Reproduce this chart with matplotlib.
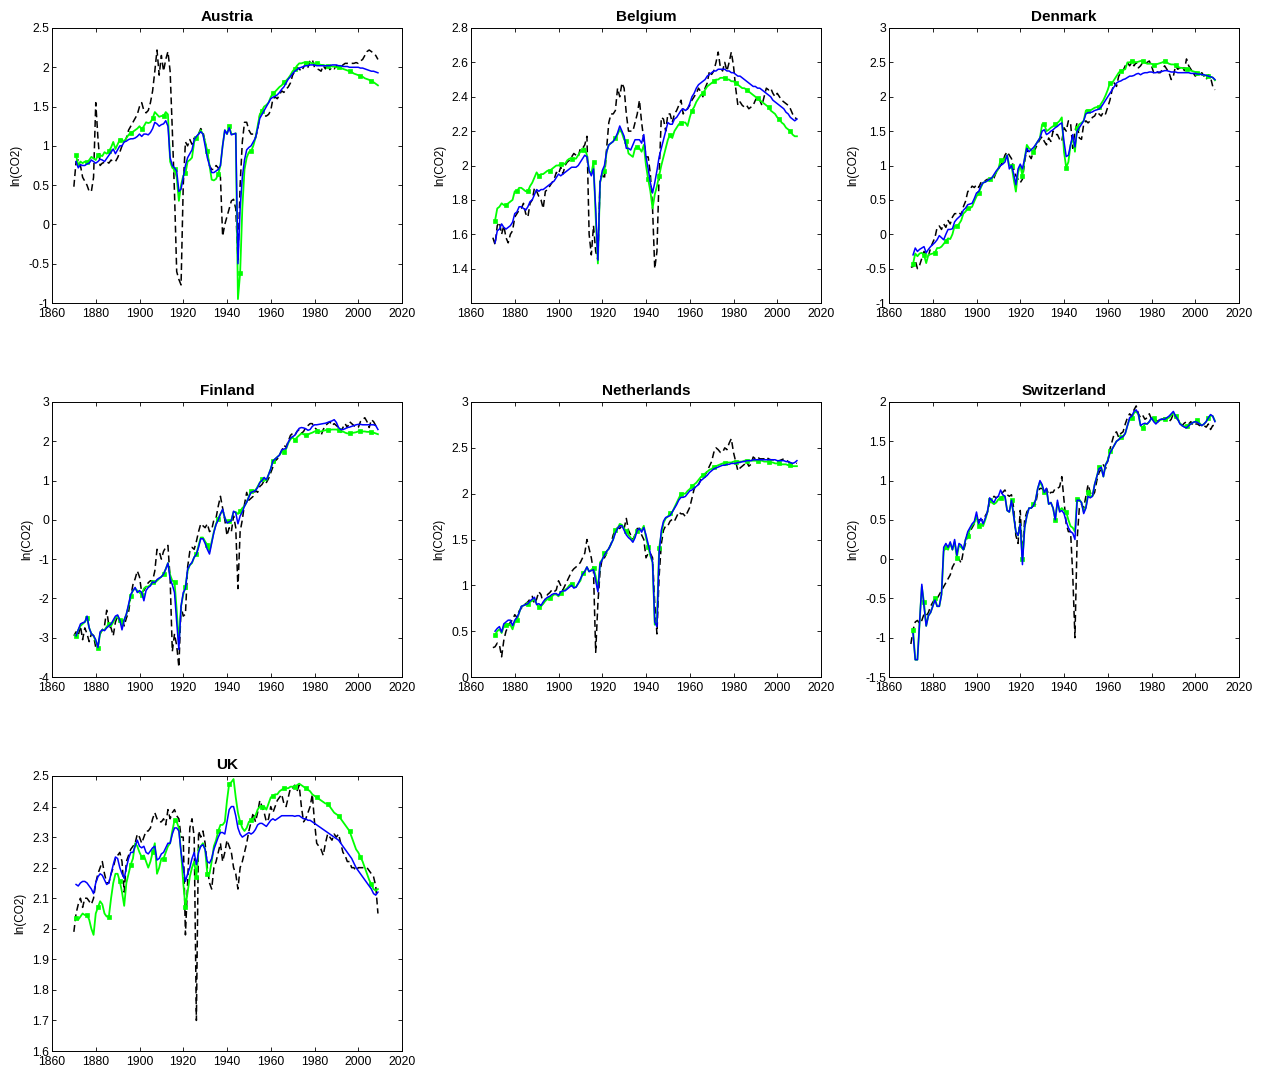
import numpy as np
import matplotlib.pyplot as plt

plt.rcParams['font.family'] = ['Liberation Sans', 'DejaVu Sans']

nan = np.nan
years = np.arange(1870, 2010)

# observed ln(CO2) (dashed) and two fitted paths (blue, green), one value per year 1870-2009

aut_obs = [
    0.48, 0.8, 0.82, 0.75, 0.6, 0.55, 0.5, 0.42, 0.42, 0.6,
    1.55, 1.1, 0.75, 0.78, 0.79, 0.8, 0.78, 0.82, 0.8, 0.8,
    0.85, 0.92, 1.0, 1.05, 1.1, 1.2, 1.25, 1.3, 1.35, 1.4,
    1.5, 1.55, 1.45, 1.42, 1.45, 1.55, 1.7, 1.95, 2.22, 1.9,
    2.15, 1.95, 2.1, 2.2, 1.95, 1.2, 0.4, -0.6, -0.7, -0.77,
    0.5, 1.05, 1.0, 1.08, 1.02, 1.1, 1.08, 1.15, 1.22, 1.18,
    1.05, 0.9, 0.75, 0.7, 0.7, 0.75, 0.72, 0.6, -0.15, 0.0,
    0.1, 0.2, 0.3, 0.32, 0.2, -0.45, 0.5, 1.05, 1.3, 1.3,
    1.2, 1.15, 1.15, 1.1, 1.2, 1.4, 1.42, 1.38, 1.38, 1.4,
    1.45, 1.6, 1.62, 1.6, 1.65, 1.7, 1.68, 1.72, 1.75, 1.8,
    1.9, 1.95, 2.0, 1.98, 1.95, 2.0, 2.05, 2.0, 2.08, 2.1,
    2.0, 1.98, 1.97, 1.95, 2.02, 1.98, 2.05, 1.97, 2.0, 1.98,
    2.02, 2.0, 2.0, 2.03, 2.05, 2.05, 2.05, 2.05, 2.05, 2.06,
    2.05, 2.08, 2.1, 2.15, 2.2, 2.22, 2.2, 2.18, 2.15, 2.1]
aut_fit1 = [
    nan, 0.8, 0.72, 0.76, 0.75, 0.75, 0.77, 0.78, 0.82, 0.8,
    0.78, 0.8, 0.83, 0.82, 0.8, 0.84, 0.88, 0.92, 0.96, 0.9,
    0.95, 1.0, 1.0, 1.05, 1.06, 1.08, 1.09, 1.09, 1.1, 1.12,
    1.15, 1.12, 1.15, 1.15, 1.14, 1.17, 1.22, 1.3, 1.28, 1.25,
    1.27, 1.28, 1.32, 1.25, 0.85, 0.75, 0.72, 0.68, 0.42, 0.45,
    0.6, 0.75, 0.85, 0.9, 0.95, 1.08, 1.12, 1.15, 1.18, 1.15,
    1.0, 0.85, 0.75, 0.66, 0.66, 0.68, 0.7, 0.75, 1.0, 1.2,
    1.15, 1.23, 1.14, 1.15, 1.16, -0.5, 0.2, 0.6, 0.82, 0.95,
    0.98, 1.0, 1.05, 1.1, 1.22, 1.35, 1.4, 1.45, 1.5, 1.55,
    1.6, 1.62, 1.63, 1.65, 1.68, 1.72, 1.75, 1.8, 1.85, 1.88,
    1.92, 1.95, 1.97, 1.99, 2.0, 2.01, 2.02, 2.02, 2.03, 2.03,
    2.03, 2.02, 2.02, 2.02, 2.02, 2.02, 2.02, 2.02, 2.03, 2.03,
    2.03, 2.02, 2.02, 2.01, 2.01, 2.01, 2.0, 2.0, 2.0, 2.0,
    2.0, 1.99, 1.99, 1.98, 1.97, 1.96, 1.95, 1.95, 1.94, 1.93]
aut_fit2 = [
    nan, 0.88, 0.75, 0.8, 0.78, 0.8, 0.79, 0.82, 0.86, 0.84,
    0.82, 0.88, 0.88, 0.87, 0.92, 0.9, 0.93, 0.98, 1.05, 0.96,
    1.02, 1.08, 1.08, 1.05, 1.1, 1.14, 1.17, 1.18, 1.2, 1.22,
    1.25, 1.21, 1.25, 1.3, 1.29, 1.3, 1.35, 1.43, 1.4, 1.37,
    1.38, 1.38, 1.43, 1.4, 0.8, 0.72, 0.7, 0.6, 0.3, 0.5,
    0.62, 0.65, 0.8, 0.82, 0.85, 1.05, 1.1, 1.15, 1.2, 1.15,
    1.05, 0.93, 0.75, 0.57, 0.56, 0.58, 0.64, 0.75, 1.0, 1.2,
    1.15, 1.25, 1.15, 1.15, 1.16, -0.95, -0.62, 0.2, 0.7, 0.85,
    0.92, 0.93, 1.0, 1.1, 1.25, 1.4, 1.45, 1.5, 1.52, 1.55,
    1.62, 1.67, 1.69, 1.72, 1.75, 1.77, 1.81, 1.83, 1.86, 1.9,
    1.95, 1.98, 2.02, 2.05, 2.05, 2.06, 2.06, 2.06, 2.06, 2.05,
    2.05, 2.05, 2.04, 2.03, 2.03, 2.02, 2.02, 2.02, 2.01, 2.01,
    2.0, 2.0, 1.99, 1.98, 1.97, 1.96, 1.95, 1.94, 1.92, 1.91,
    1.9, 1.89, 1.88, 1.86, 1.85, 1.84, 1.82, 1.81, 1.79, 1.77]

bel_obs = [
    1.58, 1.54, 1.65, 1.67, 1.6, 1.65, 1.58, 1.55, 1.6, 1.62,
    1.7, 1.72, 1.74, 1.75, 1.78, 1.72, 1.7, 1.78, 1.8, 1.87,
    1.85, 1.82, 1.8, 1.75, 1.85, 1.86, 1.88, 1.9, 1.92, 1.96,
    1.95, 1.99, 1.95, 2.0, 2.02, 2.03, 2.05, 2.07, 2.06, 2.05,
    2.1, 2.1, 2.12, 2.17, 1.6, 1.48, 1.65, 1.5, 1.45, 1.92,
    1.95, 1.92, 2.1, 2.25, 2.3, 2.3, 2.32, 2.45, 2.4, 2.48,
    2.45, 2.3, 2.2, 2.2, 2.2, 2.25, 2.3, 2.38, 2.25, 2.15,
    2.05, 2.05, 1.95, 1.75, 1.4, 1.5, 1.95, 2.28, 2.27, 2.2,
    2.3, 2.3, 2.25, 2.3, 2.32, 2.35, 2.38, 2.3, 2.32, 2.33,
    2.35, 2.38, 2.4, 2.42, 2.45, 2.43, 2.4, 2.45, 2.48, 2.55,
    2.53, 2.55, 2.6, 2.66, 2.57, 2.55, 2.6, 2.55, 2.6, 2.66,
    2.58, 2.45, 2.35, 2.37, 2.35, 2.34, 2.35, 2.33, 2.34, 2.35,
    2.38, 2.4, 2.38, 2.35, 2.4, 2.45, 2.44, 2.45, 2.42, 2.4,
    2.42, 2.4, 2.38, 2.37, 2.36, 2.35, 2.33, 2.3, 2.28, 2.27]
bel_fit1 = [
    nan, 1.55, 1.62, 1.63, 1.66, 1.64, 1.63, 1.64, 1.65, 1.67,
    1.72, 1.73, 1.76, 1.76, 1.75, 1.74, 1.76, 1.79, 1.8, 1.83,
    1.86, 1.85, 1.86, 1.86, 1.87, 1.88, 1.89, 1.9, 1.91, 1.93,
    1.95, 1.94, 1.95, 1.96, 1.97, 1.98, 1.99, 1.99, 1.99, 2.0,
    2.02, 2.04, 2.06, 2.05, 1.97, 1.94, 1.98, 1.75, 1.45, 1.9,
    1.97, 2.0, 2.08, 2.12, 2.13, 2.14, 2.16, 2.19, 2.23, 2.2,
    2.17, 2.1, 2.1, 2.09, 2.12, 2.15, 2.15, 2.15, 2.13, 2.18,
    2.05, 1.98, 1.9, 1.84, 1.9, 1.97, 2.05, 2.1, 2.15, 2.2,
    2.25, 2.24, 2.24, 2.27, 2.28, 2.3, 2.32, 2.33, 2.32, 2.33,
    2.36, 2.4, 2.42, 2.45, 2.47, 2.48, 2.49, 2.5, 2.52, 2.53,
    2.54, 2.55, 2.55, 2.56, 2.56, 2.56, 2.56, 2.55, 2.55, 2.54,
    2.54, 2.53, 2.52, 2.52, 2.51, 2.5, 2.49, 2.48, 2.47, 2.46,
    2.46, 2.45, 2.45, 2.44, 2.43, 2.42, 2.41, 2.4, 2.38, 2.37,
    2.36, 2.35, 2.34, 2.33, 2.31, 2.3, 2.28, 2.27, 2.26, 2.27]
bel_fit2 = [
    nan, 1.68, 1.75, 1.76, 1.78, 1.77, 1.77, 1.78, 1.79, 1.8,
    1.85, 1.85, 1.87, 1.87, 1.86, 1.85, 1.85, 1.88, 1.9, 1.93,
    1.96, 1.94, 1.95, 1.95, 1.96, 1.97, 1.97, 1.98, 1.99, 2.0,
    2.0, 2.01, 2.01, 2.01, 2.03, 2.04, 2.04, 2.04, 2.04, 2.06,
    2.08, 2.09, 2.1, 2.06, 1.97, 1.95, 2.02, 1.7, 1.43, 1.9,
    1.95, 1.97, 2.08, 2.12, 2.13, 2.14, 2.16, 2.18, 2.21, 2.19,
    2.15, 2.14, 2.07, 2.06, 2.05, 2.1, 2.11, 2.1, 2.08, 2.12,
    2.0, 1.92, 1.85, 1.75, 1.83, 1.88, 1.94, 2.0, 2.05, 2.1,
    2.15, 2.18, 2.16, 2.2, 2.22, 2.24, 2.25, 2.25, 2.25, 2.23,
    2.28, 2.32, 2.34, 2.37, 2.39, 2.41, 2.42, 2.44, 2.46, 2.47,
    2.48, 2.49, 2.5, 2.5, 2.51, 2.51, 2.51, 2.5, 2.5, 2.49,
    2.49, 2.48, 2.47, 2.46, 2.45, 2.45, 2.44, 2.43, 2.42, 2.41,
    2.4, 2.39, 2.38, 2.37, 2.36, 2.35, 2.34, 2.32, 2.31, 2.3,
    2.28, 2.27, 2.25, 2.24, 2.22, 2.21, 2.2, 2.18, 2.17, 2.17]

dnk_obs = [
    -0.48, -0.47, -0.38, -0.5, -0.45, -0.35, -0.25, -0.3, -0.32, -0.2,
    -0.12, -0.05, 0.1, 0.12, 0.07, 0.15, 0.1, 0.2, 0.15, 0.25,
    0.3, 0.3, 0.32, 0.28, 0.4, 0.48, 0.62, 0.65, 0.7, 0.68,
    0.72, 0.68, 0.75, 0.75, 0.78, 0.8, 0.78, 0.8, 0.82, 0.9,
    0.95, 1.0, 1.05, 1.15, 1.2, 1.15, 1.1, 0.95, 0.85, 0.8,
    0.75, 0.8, 1.05, 1.25, 1.15, 1.1, 1.2, 1.25, 1.32, 1.38,
    1.42, 1.35, 1.3, 1.4, 1.35, 1.5, 1.45, 1.45, 1.38, 1.35,
    1.55, 1.5, 1.65, 1.62, 1.25, 1.5, 1.62, 1.4, 1.38, 1.6,
    1.65, 1.62, 1.65, 1.7, 1.72, 1.78, 1.75, 1.72, 1.78, 1.75,
    1.85, 1.95, 2.1, 2.2, 2.15, 2.3, 2.35, 2.38, 2.45, 2.5,
    2.45, 2.5, 2.45, 2.5, 2.42, 2.45, 2.5, 2.48, 2.5, 2.52,
    2.45, 2.35, 2.38, 2.35, 2.35, 2.4, 2.45, 2.4, 2.35, 2.25,
    2.3, 2.45, 2.4, 2.42, 2.45, 2.38, 2.55, 2.45, 2.4, 2.35,
    2.3, 2.33, 2.3, 2.35, 2.3, 2.25, 2.32, 2.28, 2.15, 2.1]
dnk_fit1 = [
    nan, -0.3, -0.2, -0.25, -0.22, -0.2, -0.18, -0.27, -0.22, -0.18,
    -0.15, -0.12, -0.08, -0.02, -0.05, -0.08, 0.0, 0.07, 0.07, 0.08,
    0.18, 0.22, 0.25, 0.28, 0.35, 0.38, 0.43, 0.44, 0.45, 0.52,
    0.6, 0.62, 0.7, 0.75, 0.76, 0.78, 0.8, 0.82, 0.87, 0.92,
    0.96, 1.0, 1.02, 1.05, 1.15, 0.95, 1.0, 0.88, 0.72, 0.95,
    1.02, 0.95, 1.1, 1.25, 1.2, 1.23, 1.26, 1.3, 1.35, 1.4,
    1.5, 1.52, 1.45, 1.47, 1.5, 1.52, 1.55, 1.57, 1.6, 1.62,
    1.35, 1.13, 1.15, 1.3, 1.45, 1.27, 1.5, 1.55, 1.6, 1.65,
    1.75, 1.77, 1.77, 1.78, 1.8, 1.81, 1.82, 1.85, 1.9, 1.95,
    2.0, 2.05, 2.1, 2.15, 2.2, 2.22, 2.23, 2.25, 2.26, 2.28,
    2.3, 2.3, 2.31, 2.33, 2.34, 2.32, 2.34, 2.35, 2.35, 2.36,
    2.36, 2.35, 2.35, 2.36, 2.36, 2.37, 2.38, 2.38, 2.37, 2.36,
    2.36, 2.36, 2.35, 2.35, 2.35, 2.35, 2.35, 2.35, 2.34, 2.34,
    2.34, 2.33, 2.33, 2.32, 2.32, 2.31, 2.3, 2.29, 2.28, 2.25]
dnk_fit2 = [
    nan, -0.43, -0.28, -0.32, -0.28, -0.27, -0.3, -0.42, -0.3, -0.29,
    -0.28, -0.27, -0.2, -0.2, -0.18, -0.14, -0.1, -0.06, -0.07, 0.0,
    0.12, 0.12, 0.15, 0.2, 0.3, 0.33, 0.38, 0.38, 0.4, 0.48,
    0.55, 0.6, 0.68, 0.75, 0.76, 0.78, 0.8, 0.82, 0.85, 0.9,
    0.95, 1.08, 1.05, 1.1, 1.15, 1.0, 1.0, 0.8, 0.62, 0.9,
    1.0, 0.85, 1.1, 1.3, 1.25, 1.23, 1.2, 1.3, 1.35, 1.4,
    1.6, 1.6, 1.5, 1.52, 1.55, 1.57, 1.6, 1.62, 1.65, 1.7,
    1.2, 0.97, 1.05, 1.3, 1.4, 1.2, 1.55, 1.6, 1.62, 1.65,
    1.8, 1.8, 1.8, 1.82, 1.84, 1.85, 1.85, 1.9, 1.95, 2.02,
    2.1, 2.2, 2.2, 2.25, 2.3, 2.35, 2.38, 2.39, 2.4, 2.5,
    2.5, 2.52, 2.51, 2.5, 2.51, 2.52, 2.52, 2.5, 2.48, 2.48,
    2.48, 2.46, 2.47, 2.48, 2.49, 2.5, 2.52, 2.5, 2.48, 2.47,
    2.47, 2.46, 2.44, 2.42, 2.42, 2.41, 2.41, 2.4, 2.38, 2.37,
    2.36, 2.35, 2.34, 2.32, 2.31, 2.31, 2.3, 2.29, 2.28, 2.24]

fin_obs = [
    -2.95, -2.85, -2.95, -2.7, -3.05, -2.75, -2.9, -3.1, -2.9, -2.95,
    -3.25, -3.2, -2.9, -2.8, -2.7, -2.3, -2.7, -2.75, -2.95, -2.6,
    -2.45, -2.6, -2.5, -2.7, -2.5, -2.35, -1.95, -1.65, -1.5, -1.3,
    -1.45, -1.85, -1.8, -1.7, -1.6, -1.55, -1.55, -1.3, -0.75, -0.8,
    -1.0, -0.8, -0.7, -0.65, -1.5, -3.35, -2.9, -3.2, -3.75, -2.2,
    -2.45, -2.4, -1.2, -0.8, -0.7, -0.75, -0.55, -0.3, -0.1, -0.15,
    -0.2, -0.1, -0.3, -0.25, 0.0, 0.05, 0.35, 0.6, 0.3, 0.0,
    -0.4, -0.2, -0.3, 0.1, -0.2, -1.75, -0.3, 0.0, 0.4, 0.7,
    0.5, 0.55, 0.6, 0.75, 0.7, 0.85, 0.9, 1.0, 0.95, 1.05,
    1.2, 1.35, 1.5, 1.55, 1.65, 1.75, 1.9, 1.85, 2.0, 2.15,
    2.2, 2.15, 2.25, 2.3, 2.2, 2.25, 2.35, 2.4, 2.45, 2.45,
    2.35, 2.3, 2.2, 2.15, 2.3, 2.4, 2.45, 2.5, 2.4, 2.45,
    2.4, 2.35, 2.25, 2.35, 2.45, 2.35, 2.5, 2.45, 2.4, 2.35,
    2.35, 2.5, 2.55, 2.6, 2.5, 2.35, 2.55, 2.5, 2.4, 2.35]
fin_fit1 = [
    nan, -2.95, -2.8, -2.65, -2.62, -2.6, -2.45, -2.75, -2.9, -2.95,
    -3.05, -3.25, -2.85, -2.8, -2.82, -2.75, -2.7, -2.65, -2.55, -2.45,
    -2.42, -2.55, -2.8, -2.55, -2.4, -2.15, -1.9, -1.8, -1.72, -1.85,
    -1.8, -1.85, -2.06, -1.8, -1.72, -1.68, -1.58, -1.6, -1.52, -1.48,
    -1.45, -1.38, -1.25, -1.1, -1.5, -1.65, -1.85, -2.6, -3.3, -2.2,
    -1.85, -1.75, -1.25, -1.15, -1.08, -0.95, -0.88, -0.7, -0.48, -0.48,
    -0.6, -0.75, -0.87, -0.6, -0.32, -0.12, 0.0, 0.15, 0.27, 0.05,
    -0.08, -0.05, -0.02, 0.22, 0.18, -0.1, 0.1, 0.2, 0.35, 0.45,
    0.58, 0.7, 0.72, 0.75, 0.82, 0.95, 1.0, 1.08, 1.02, 1.15,
    1.3, 1.5, 1.55, 1.6, 1.65, 1.78, 1.8, 1.82, 1.98, 2.08,
    2.12, 2.15, 2.25, 2.33, 2.35, 2.34, 2.32, 2.28, 2.3, 2.38,
    2.42, 2.42, 2.43, 2.44, 2.45, 2.46, 2.48, 2.5, 2.52, 2.55,
    2.48, 2.35, 2.3, 2.3, 2.32, 2.35, 2.36, 2.38, 2.4, 2.42,
    2.43, 2.43, 2.42, 2.42, 2.42, 2.42, 2.42, 2.42, 2.4, 2.3]
fin_fit2 = [
    nan, -2.95, -2.8, -2.7, -2.65, -2.6, -2.5, -2.75, -2.9, -2.95,
    -3.1, -3.25, -2.9, -2.8, -2.8, -2.72, -2.65, -2.7, -2.6, -2.5,
    -2.45, -2.55, -2.7, -2.55, -2.4, -2.2, -1.93, -1.8, -1.75, -1.8,
    -1.85, -1.9, -1.75, -1.7, -1.7, -1.65, -1.57, -1.6, -1.55, -1.5,
    -1.45, -1.38, -1.25, -1.1, -1.4, -1.55, -1.57, -2.3, -3.1, -2.2,
    -1.9, -1.7, -1.3, -1.15, -1.1, -0.95, -0.88, -0.65, -0.45, -0.45,
    -0.55, -0.64, -0.8, -0.55, -0.3, -0.1, 0.03, 0.15, 0.25, 0.05,
    -0.05, -0.03, 0.0, 0.2, 0.2, 0.15, 0.22, 0.3, 0.35, 0.45,
    0.6, 0.74, 0.75, 0.75, 0.85, 0.95, 1.03, 1.05, 1.0, 1.15,
    1.3, 1.5, 1.55, 1.6, 1.65, 1.75, 1.73, 1.8, 1.95, 2.05,
    2.1, 2.03, 2.1, 2.15, 2.2, 2.18, 2.15, 2.17, 2.2, 2.22,
    2.25, 2.26, 2.25, 2.25, 2.27, 2.28, 2.3, 2.29, 2.3, 2.3,
    2.3, 2.28, 2.23, 2.25, 2.22, 2.2, 2.21, 2.21, 2.22, 2.23,
    2.25, 2.27, 2.25, 2.25, 2.24, 2.24, 2.23, 2.22, 2.2, 2.18]

nld_obs = [
    0.32, 0.33, 0.37, 0.35, 0.22, 0.4, 0.5, 0.55, 0.6, 0.62,
    0.68, 0.65, 0.72, 0.75, 0.78, 0.8, 0.82, 0.85, 0.88, 0.8,
    0.85, 0.93, 0.9, 0.8, 0.85, 0.9, 0.92, 0.95, 0.93, 0.95,
    1.05, 1.0, 0.95, 1.0, 1.05, 1.1, 1.15, 1.18, 1.2, 1.22,
    1.25, 1.3, 1.35, 1.5, 1.4, 1.3, 1.15, 0.27, 0.8, 1.15,
    1.3, 1.3, 1.35, 1.4, 1.45, 1.55, 1.6, 1.63, 1.62, 1.65,
    1.62, 1.73, 1.6, 1.55, 1.5, 1.55, 1.62, 1.62, 1.55, 1.5,
    1.3, 1.35, 1.35, 1.3, 0.8, 0.47, 1.1, 1.45, 1.6, 1.65,
    1.65, 1.7, 1.72, 1.7, 1.75, 1.8, 1.78, 1.78, 1.75, 1.8,
    1.85, 1.95, 2.05, 2.1, 2.1, 2.15, 2.2, 2.2, 2.25, 2.3,
    2.35, 2.45, 2.5, 2.48, 2.45, 2.45, 2.5, 2.48, 2.55, 2.6,
    2.45, 2.35, 2.25, 2.28, 2.3, 2.32, 2.35, 2.3, 2.32, 2.4,
    2.38, 2.4, 2.38, 2.38, 2.38, 2.4, 2.38, 2.37, 2.37, 2.36,
    2.35, 2.36, 2.37, 2.38, 2.37, 2.35, 2.33, 2.33, 2.34, 2.33]
nld_fit1 = [
    nan, 0.5, 0.53, 0.55, 0.49, 0.58, 0.6, 0.62, 0.62, 0.56,
    0.62, 0.65, 0.7, 0.77, 0.78, 0.79, 0.8, 0.83, 0.85, 0.87,
    0.79, 0.8, 0.78, 0.82, 0.85, 0.87, 0.88, 0.9, 0.91, 0.91,
    0.89, 0.93, 0.94, 0.94, 0.96, 0.98, 1.0, 0.97, 0.98, 1.02,
    1.07, 1.12, 1.15, 1.2, 1.15, 1.16, 1.17, 1.05, 0.93, 1.23,
    1.28, 1.33, 1.37, 1.4, 1.45, 1.5, 1.57, 1.62, 1.65, 1.65,
    1.6, 1.55, 1.52, 1.5, 1.47, 1.52, 1.6, 1.62, 1.58, 1.63,
    1.55, 1.45, 1.35, 1.25, 0.6, 0.55, 1.35, 1.6, 1.7, 1.74,
    1.75, 1.76, 1.8, 1.84, 1.88, 1.93, 1.96, 1.96, 1.97, 2.0,
    2.03, 2.04, 2.06, 2.08, 2.1, 2.14, 2.16, 2.18, 2.2, 2.23,
    2.25, 2.27, 2.28, 2.29, 2.3, 2.31, 2.31, 2.32, 2.32, 2.33,
    2.33, 2.33, 2.34, 2.34, 2.35, 2.35, 2.36, 2.36, 2.36, 2.37,
    2.37, 2.37, 2.37, 2.37, 2.37, 2.37, 2.37, 2.37, 2.37, 2.37,
    2.36, 2.36, 2.36, 2.36, 2.35, 2.35, 2.34, 2.33, 2.34, 2.36]
nld_fit2 = [
    nan, 0.46, 0.5, 0.52, 0.48, 0.55, 0.57, 0.58, 0.57, 0.52,
    0.6, 0.62, 0.7, 0.77, 0.78, 0.79, 0.8, 0.82, 0.83, 0.85,
    0.8, 0.76, 0.77, 0.8, 0.83, 0.85, 0.86, 0.88, 0.9, 0.9,
    0.88, 0.92, 0.94, 0.95, 0.97, 1.0, 1.02, 0.98, 0.98, 1.02,
    1.05, 1.13, 1.15, 1.2, 1.15, 1.17, 1.19, 1.1, 0.95, 1.25,
    1.28, 1.35, 1.37, 1.4, 1.45, 1.5, 1.6, 1.62, 1.67, 1.66,
    1.62, 1.59, 1.55, 1.52, 1.48, 1.55, 1.59, 1.62, 1.6, 1.65,
    1.52, 1.42, 1.32, 1.25, 0.57, 0.6, 1.41, 1.55, 1.68, 1.73,
    1.75, 1.79, 1.8, 1.85, 1.9, 1.95, 2.0, 2.0, 2.0, 2.03,
    2.05, 2.08, 2.1, 2.12, 2.15, 2.18, 2.2, 2.22, 2.24, 2.26,
    2.27, 2.29, 2.3, 2.31, 2.32, 2.33, 2.33, 2.34, 2.34, 2.34,
    2.35, 2.35, 2.35, 2.35, 2.35, 2.36, 2.36, 2.36, 2.36, 2.36,
    2.36, 2.36, 2.36, 2.36, 2.35, 2.35, 2.35, 2.34, 2.34, 2.33,
    2.33, 2.33, 2.32, 2.32, 2.32, 2.31, 2.31, 2.3, 2.3, 2.3]

che_obs = [
    -1.08, -0.9, -0.8, -0.78, -0.82, -0.78, -0.7, -0.72, -0.68, -0.6,
    -0.55, -0.5, -0.5, -0.45, -0.4, -0.35, -0.3, -0.25, -0.2, -0.1,
    -0.05, 0.0, 0.0, -0.05, 0.1, 0.2, 0.3, 0.35, 0.4, 0.45,
    0.45, 0.5, 0.5, 0.5, 0.55, 0.6, 0.72, 0.75, 0.8, 0.78,
    0.8, 0.82, 0.85, 0.88, 0.82, 0.8, 0.82, 0.65, 0.3, 0.2,
    0.62, 0.05, 0.5, 0.6, 0.65, 0.65, 0.68, 0.7, 0.85, 0.9,
    0.9, 0.85, 0.9, 0.82, 0.85, 0.85, 0.9, 0.9, 0.92, 1.05,
    0.75, 0.45, 0.35, 0.35, -0.2, -1.0, 0.25, 0.65, 0.7, 0.65,
    0.8, 0.95, 0.85, 0.8, 0.85, 1.0, 1.1, 1.15, 1.2, 1.15,
    1.25, 1.4, 1.5, 1.6, 1.62, 1.55, 1.6, 1.62, 1.72, 1.8,
    1.85, 1.82, 1.9, 1.95, 1.85, 1.8, 1.83, 1.78, 1.8, 1.85,
    1.78, 1.75, 1.77, 1.75, 1.8, 1.78, 1.8, 1.78, 1.75, 1.78,
    1.85, 1.8, 1.78, 1.75, 1.7, 1.73, 1.75, 1.72, 1.75, 1.7,
    1.72, 1.72, 1.7, 1.72, 1.7, 1.68, 1.72, 1.65, 1.7, 1.7]
che_fit1 = [
    nan, -0.95, -1.28, -1.28, -0.8, -0.32, -0.6, -0.85, -0.72, -0.68,
    -0.6, -0.52, -0.6, -0.6, -0.45, 0.15, 0.2, 0.15, 0.22, 0.12,
    0.25, 0.05, 0.2, 0.18, 0.12, 0.25, 0.35, 0.4, 0.45, 0.48,
    0.6, 0.45, 0.52, 0.45, 0.52, 0.6, 0.78, 0.75, 0.72, 0.78,
    0.8, 0.88, 0.82, 0.8, 0.62, 0.6, 0.75, 0.55, 0.35, 0.3,
    0.45, -0.07, 0.4, 0.55, 0.65, 0.65, 0.68, 0.75, 0.9, 1.0,
    0.95, 0.85, 0.9, 0.7, 0.72, 0.65, 0.5, 0.75, 0.6, 0.62,
    0.58, 0.48, 0.4, 0.35, 0.33, 0.25, 0.75, 0.75, 0.72, 0.58,
    0.65, 0.8, 0.78, 0.8, 0.95, 1.05, 1.15, 1.17, 1.05, 1.2,
    1.25, 1.35, 1.4, 1.45, 1.5, 1.52, 1.55, 1.56, 1.6, 1.7,
    1.8, 1.82, 1.88, 1.9, 1.85, 1.7, 1.72, 1.73, 1.72, 1.75,
    1.8, 1.75, 1.72, 1.75, 1.78, 1.78, 1.78, 1.8, 1.82, 1.85,
    1.88, 1.82, 1.78, 1.72, 1.7, 1.68, 1.67, 1.7, 1.72, 1.74,
    1.75, 1.74, 1.72, 1.7, 1.72, 1.75, 1.8, 1.84, 1.82, 1.75]
che_fit2 = [
    nan, -0.9, -1.28, -1.28, -0.8, -0.35, -0.55, -0.85, -0.72, -0.68,
    -0.6, -0.5, -0.6, -0.6, -0.45, 0.1, 0.15, 0.12, 0.2, 0.12,
    0.22, 0.02, 0.18, 0.15, 0.12, 0.25, 0.3, 0.38, 0.43, 0.46,
    0.55, 0.42, 0.45, 0.42, 0.5, 0.6, 0.75, 0.72, 0.7, 0.72,
    0.76, 0.78, 0.8, 0.8, 0.62, 0.6, 0.75, 0.55, 0.35, 0.3,
    0.45, 0.0, 0.4, 0.55, 0.65, 0.65, 0.7, 0.75, 0.9, 0.98,
    0.93, 0.85, 0.88, 0.7, 0.72, 0.65, 0.5, 0.72, 0.62, 0.65,
    0.62, 0.6, 0.5, 0.42, 0.4, 0.35, 0.77, 0.76, 0.72, 0.6,
    0.66, 0.85, 0.8, 0.8, 0.95, 1.05, 1.17, 1.17, 1.05, 1.2,
    1.26, 1.37, 1.4, 1.45, 1.5, 1.52, 1.55, 1.56, 1.6, 1.7,
    1.78, 1.8, 1.86, 1.88, 1.84, 1.7, 1.67, 1.72, 1.72, 1.75,
    1.79, 1.8, 1.74, 1.75, 1.77, 1.78, 1.78, 1.79, 1.8, 1.83,
    1.86, 1.82, 1.78, 1.73, 1.7, 1.69, 1.7, 1.71, 1.72, 1.74,
    1.75, 1.77, 1.73, 1.7, 1.72, 1.75, 1.8, 1.83, 1.82, 1.76]

gbr_obs = [
    1.99, 2.05, 2.08, 2.1, 2.07, 2.1, 2.1, 2.09, 2.08, 2.1,
    2.15, 2.18, 2.2, 2.22, 2.18, 2.15, 2.15, 2.18, 2.2, 2.23,
    2.24, 2.25, 2.22, 2.12, 2.22, 2.24, 2.26, 2.27, 2.28, 2.31,
    2.3, 2.28, 2.3, 2.32, 2.32, 2.33, 2.36, 2.38, 2.36, 2.35,
    2.35, 2.36, 2.34, 2.39, 2.36, 2.38, 2.39, 2.37, 2.36, 2.3,
    2.3, 1.98, 2.15, 2.33, 2.36, 2.3, 1.7, 2.32, 2.3, 2.32,
    2.28, 2.2, 2.15, 2.13, 2.2, 2.22, 2.25, 2.28, 2.22, 2.25,
    2.29, 2.27, 2.25, 2.2, 2.18, 2.13, 2.2, 2.22, 2.25, 2.28,
    2.32, 2.35, 2.38, 2.35, 2.38, 2.42, 2.4, 2.38, 2.35, 2.36,
    2.4, 2.38, 2.4, 2.42, 2.43, 2.44, 2.41, 2.4, 2.43, 2.46,
    2.46, 2.47, 2.45, 2.47, 2.4, 2.35, 2.36, 2.38, 2.4, 2.44,
    2.35, 2.28, 2.27, 2.26, 2.24, 2.28, 2.31, 2.3, 2.29, 2.31,
    2.3, 2.31, 2.28, 2.25, 2.24, 2.22, 2.22, 2.2, 2.2, 2.19,
    2.2, 2.2, 2.2, 2.2, 2.2, 2.19, 2.18, 2.17, 2.14, 2.05]
gbr_fit1 = [
    nan, 2.145, 2.14, 2.15, 2.155, 2.155, 2.15, 2.14, 2.13, 2.115,
    2.15, 2.17, 2.18, 2.175, 2.16, 2.145, 2.15, 2.18, 2.21, 2.235,
    2.23, 2.2, 2.18, 2.165, 2.2, 2.23, 2.25, 2.25, 2.27, 2.29,
    2.27, 2.265, 2.27, 2.25, 2.245, 2.255, 2.265, 2.27, 2.225, 2.23,
    2.245, 2.25, 2.265, 2.28, 2.28, 2.31, 2.33, 2.33, 2.32, 2.25,
    2.2, 2.155, 2.18, 2.2, 2.23, 2.25, 2.21, 2.25, 2.27, 2.275,
    2.26, 2.22, 2.215, 2.23, 2.26, 2.28, 2.3, 2.315, 2.315, 2.31,
    2.35, 2.39, 2.4, 2.4, 2.37, 2.33, 2.31, 2.3, 2.305, 2.31,
    2.315, 2.31, 2.315, 2.325, 2.34, 2.345, 2.345, 2.34, 2.335, 2.345,
    2.355, 2.36, 2.355, 2.36, 2.365, 2.37, 2.37, 2.37, 2.37, 2.37,
    2.37, 2.368, 2.37, 2.37, 2.365, 2.36, 2.36, 2.355, 2.355, 2.35,
    2.345, 2.34, 2.335, 2.33, 2.325, 2.32, 2.315, 2.31, 2.305, 2.3,
    2.295, 2.29, 2.28, 2.27, 2.26, 2.25, 2.24, 2.23, 2.215, 2.2,
    2.19, 2.18, 2.17, 2.16, 2.15, 2.14, 2.13, 2.115, 2.11, 2.12]
gbr_fit2 = [
    nan, 2.035, 2.03, 2.04, 2.05, 2.045, 2.045, 2.03, 2.0, 1.98,
    2.05, 2.07, 2.09, 2.08, 2.05, 2.04, 2.04, 2.1, 2.15, 2.18,
    2.18, 2.155, 2.12, 2.075, 2.15, 2.18, 2.21, 2.23, 2.28, 2.27,
    2.25, 2.235, 2.24, 2.22, 2.2, 2.22, 2.25, 2.28, 2.18, 2.2,
    2.23, 2.23, 2.25, 2.27, 2.28, 2.32, 2.355, 2.35, 2.33, 2.25,
    2.15, 2.07, 2.12, 2.17, 2.2, 2.22, 2.17, 2.26, 2.27, 2.28,
    2.26, 2.18, 2.18, 2.22, 2.27, 2.29, 2.32, 2.34, 2.34, 2.35,
    2.42, 2.475, 2.48, 2.49, 2.43, 2.38, 2.35, 2.33, 2.32, 2.33,
    2.35, 2.355, 2.36, 2.37, 2.39, 2.4, 2.4, 2.4, 2.39, 2.41,
    2.43, 2.435, 2.44, 2.44, 2.45, 2.455, 2.46, 2.46, 2.46, 2.465,
    2.465, 2.465, 2.47, 2.475, 2.47, 2.465, 2.46, 2.455, 2.45, 2.44,
    2.435, 2.43, 2.425, 2.42, 2.415, 2.41, 2.41, 2.4, 2.39, 2.38,
    2.375, 2.37, 2.36, 2.35, 2.34, 2.33, 2.32, 2.3, 2.28, 2.26,
    2.25, 2.235, 2.22, 2.2, 2.18, 2.16, 2.145, 2.13, 2.125, 2.13]

titles = ['Austria', 'Belgium', 'Denmark', 'Finland', 'Netherlands',
          'Switzerland', 'UK']
obs = [aut_obs, bel_obs, dnk_obs, fin_obs, nld_obs, che_obs, gbr_obs]
fit1 = [aut_fit1, bel_fit1, dnk_fit1, fin_fit1, nld_fit1, che_fit1, gbr_fit1]
fit2 = [aut_fit2, bel_fit2, dnk_fit2, fin_fit2, nld_fit2, che_fit2, gbr_fit2]
ylims = [(-1, 2.5), (1.2, 2.8), (-1, 3), (-4, 3), (0, 3), (-1.5, 2), (1.6, 2.5)]
ysteps = [0.5, 0.2, 0.5, 1, 0.5, 0.5, 0.1]
ystart = [-1, 1.4, -1, -4, 0, -1.5, 1.6]

# axes boxes in pixels (left, top) on a 1265 x 1068 canvas
W, H = 1265., 1068.
lefts = [52, 471, 889]
tops = [28, 402, 776]
aw, ah = 350, 275

fig = plt.figure(figsize=(12.65, 10.68), dpi=100)

for i in range(len(titles)):
    r, c = divmod(i, 3)
    ax = fig.add_axes([lefts[c] / W, 1 - (tops[r] + ah) / H, aw / W, ah / H])
    ax.plot(years, obs[i], color='k', ls='--', dashes=(4.5, 2.5), lw=1.1)
    ax.plot(years, fit2[i], color='#00ff00', lw=1.3, marker='s', ms=3,
            mew=0.5, markevery=(1, 5))
    ax.plot(years, fit1[i], color='#0000ff', lw=1.1)

    ax.set_xlim(1860, 2020)
    ax.set_xticks(np.arange(1860, 2021, 20))
    lo, hi = ylims[i]
    ax.set_ylim(lo, hi)
    ax.set_yticks(np.round(np.arange(ystart[i], hi + 1e-6, ysteps[i]), 2))
    ax.yaxis.set_major_formatter(plt.FuncFormatter(lambda v, p: '%g' % v))
    ax.tick_params(direction='in', top=True, right=True, length=2.8,
                   width=0.6, labelsize=8.8)
    ax.tick_params(axis='y', pad=2)
    ax.tick_params(axis='x', pad=3.5)
    for s in ax.spines.values():
        s.set_linewidth(0.7)
    ax.set_ylabel('ln(CO2)', fontsize=8.5)
    ax.set_title(titles[i], fontsize=11, fontweight='bold', pad=5)

fig.savefig('out.png', dpi=100)
